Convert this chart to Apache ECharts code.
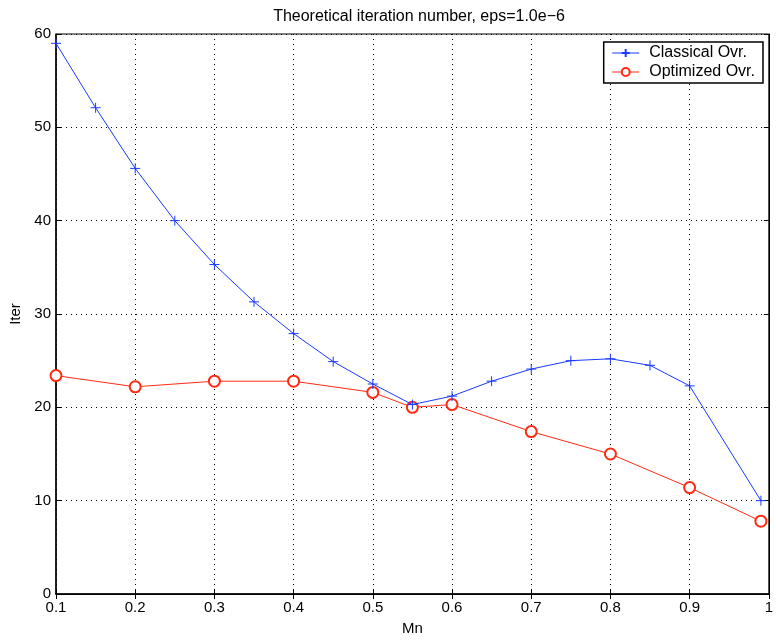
<!DOCTYPE html>
<html><head><meta charset="utf-8">
<script src="https://cdn.jsdelivr.net/npm/echarts@6/dist/echarts.min.js"></script>
<style>html,body{margin:0;padding:0;background:#fff}#c{width:776px;height:641px}</style>
</head><body><div id="c"></div>
<script>
const classicalX = [0.1,0.15,0.2,0.25,0.3,0.35,0.4,0.45,0.5,0.55,0.6,0.65,0.7,0.75,0.8,0.85,0.9,0.99];
const classicalY = [59.0,52.1,45.6,40.0,35.3,31.3,27.9,24.9,22.5,20.3,21.2,22.8,24.1,25.0,25.2,24.5,22.3,10.0];
const optimizedX = [0.1,0.2,0.3,0.4,0.5,0.55,0.6,0.7,0.8,0.9,0.99];
const optimizedY = [23.4,22.2,22.8,22.8,21.6,20.0,20.3,17.4,15.0,11.4,7.8];
const seriesNames = ['Classical Ovr.','Optimized Ovr.'];
const FONT = 'Liberation Sans, Arial, sans-serif';
const blue = '#1a3aff', red = '#ff2a14';
const plusPath = 'path://M0,5L10,5M5,0L5,10';
const gridLine = {show:true, lineStyle:{color:'#000', type:[1,4], width:1}};
const chart = echarts.init(document.getElementById('c'));
chart.setOption({
  animation:false,
  backgroundColor:'#fff',
  title:{text:'Theoretical iteration number, eps=1.0e\u22126', left:414, textAlign:'center', top:4,
    textStyle:{fontFamily:FONT, fontSize:16, fontWeight:'normal', color:'#000'}},
  grid:{left:56, right:5, top:34, bottom:44, show:true, borderColor:'#000', borderWidth:1},
  legend:{
    orient:'vertical', right:13, top:42, padding:[3,8,3,8], itemGap:3,
    borderColor:'#000', borderWidth:1.5, backgroundColor:'#fff',
    itemWidth:27, itemHeight:10,
    lineStyle:{width:1},
    textStyle:{fontFamily:FONT, fontSize:16, color:'#000', padding:[0,0,0,5]},
    data:seriesNames
  },
  xAxis:[{
    type:'value', min:0.1, max:1, interval:0.1, position:'bottom',
    name:'Mn', nameLocation:'middle', nameGap:27,
    nameTextStyle:{fontFamily:FONT, fontSize:15, color:'#000'},
    axisLine:{lineStyle:{color:'#000', width:1.5}},
    axisTick:{inside:true, length:5, lineStyle:{color:'#000'}},
    axisLabel:{fontFamily:FONT, fontSize:15, color:'#000', margin:6},
    splitLine:gridLine
  },{
    type:'value', min:0.1, max:1, interval:0.1, position:'top',
    axisLine:{lineStyle:{color:'#000'}},
    axisTick:{inside:true, length:5, lineStyle:{color:'#000'}},
    axisLabel:{show:false}, splitLine:{show:false}
  }],
  yAxis:[{
    type:'value', min:0, max:60, interval:10, position:'left',
    name:'Iter', nameLocation:'middle', nameGap:33, nameRotate:90,
    nameTextStyle:{fontFamily:FONT, fontSize:15, color:'#000'},
    axisLine:{show:true, lineStyle:{color:'#000', width:1.5}},
    axisTick:{show:true, inside:true, length:5, lineStyle:{color:'#000'}},
    axisLabel:{fontFamily:FONT, fontSize:15, color:'#000', margin:5},
    splitLine:gridLine
  },{
    type:'value', min:0, max:60, interval:10, position:'right',
    axisLine:{show:true, lineStyle:{color:'#000'}},
    axisTick:{show:true, inside:true, length:5, lineStyle:{color:'#000'}},
    axisLabel:{show:false}, splitLine:{show:false}
  }],
  series:[{
    name:seriesNames[0], type:'line',
    data:classicalX.map((x,i)=>[x,classicalY[i]]),
    symbol:plusPath, symbolSize:10, showAllSymbol:true,
    lineStyle:{color:blue, width:1},
    itemStyle:{color:blue, borderColor:blue, borderWidth:1},
    z:3
  },{
    name:seriesNames[1], type:'line',
    data:optimizedX.map((x,i)=>[x,optimizedY[i]]),
    symbol:'emptyCircle', symbolSize:11, showAllSymbol:true,
    lineStyle:{color:red, width:1},
    itemStyle:{color:red, borderColor:red, borderWidth:1},
    z:2
  }]
});
</script></body></html>
